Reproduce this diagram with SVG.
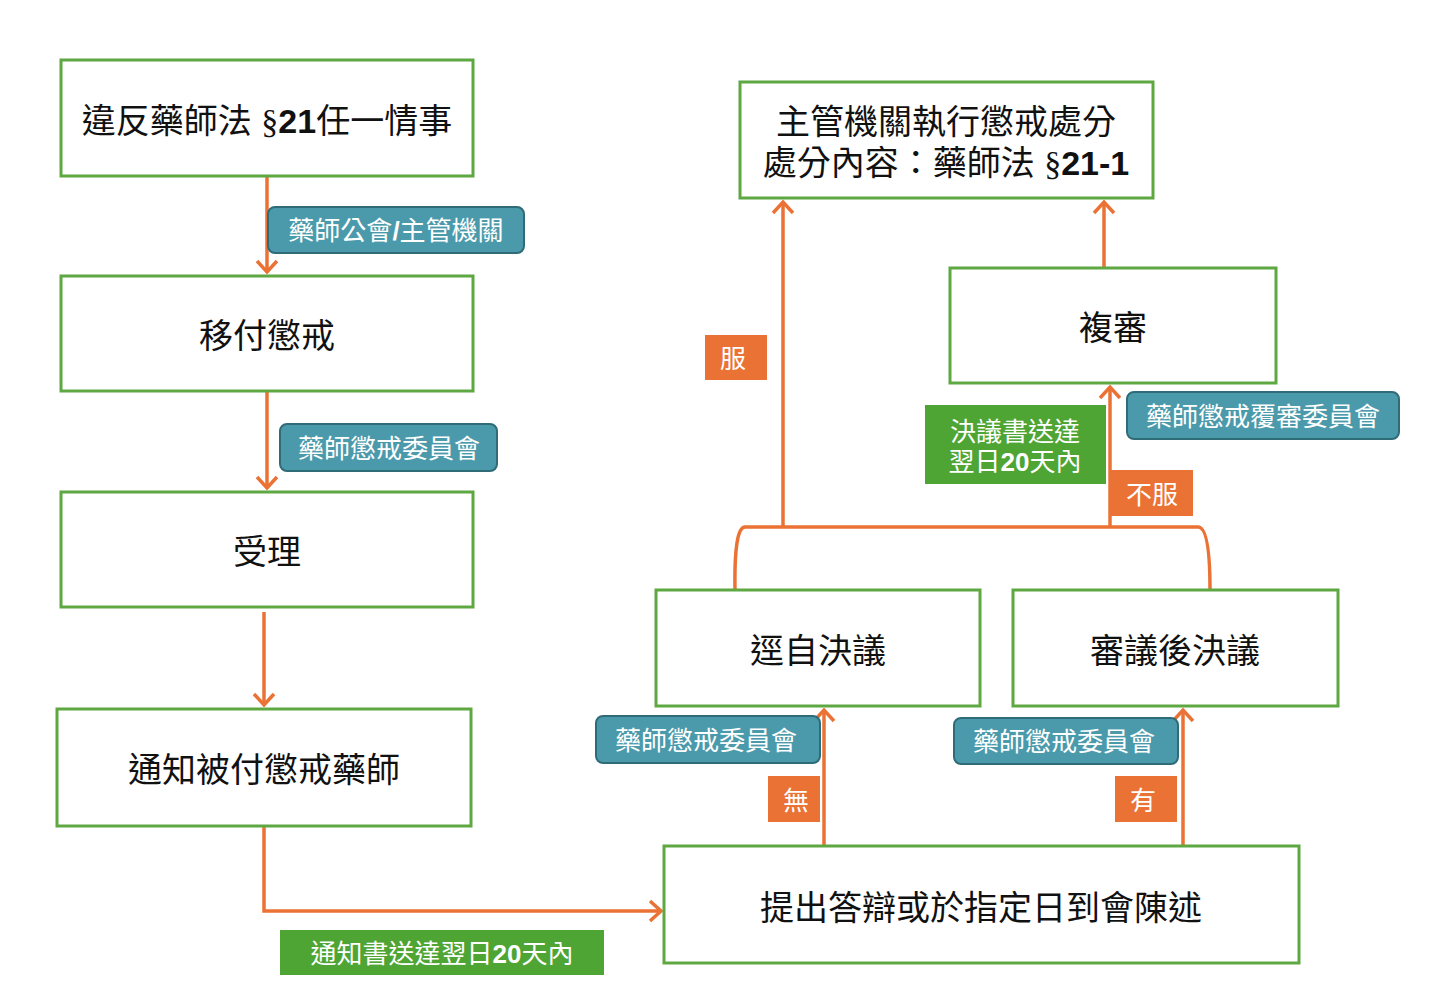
<svg xmlns="http://www.w3.org/2000/svg" width="1441" height="1000" viewBox="0 0 1441 1000">
<defs>
<marker id="ah" markerWidth="16" markerHeight="24" refX="13" refY="12" orient="auto" markerUnits="userSpaceOnUse">
<path d="M2,2 L13,12 L2,22" fill="none" stroke="#eb7235" stroke-width="3.5"/>
</marker>
<style>
.box{fill:#fff;stroke:#5ea842;stroke-width:3}
.bt{font-family:"Liberation Sans","Noto Sans CJK TC","Noto Sans CJK SC",sans-serif;font-size:34px;fill:#111;text-anchor:middle;dominant-baseline:central}
.con{fill:none;stroke:#eb7235;stroke-width:3.5}
.teal{fill:#4b9aab;stroke:#2f6c78;stroke-width:2}
.green{fill:#4ea534}
.org{fill:#eb7235}
.lt{font-family:"Liberation Sans","Noto Sans CJK TC","Noto Sans CJK SC",sans-serif;font-size:26px;fill:#fff;text-anchor:middle;dominant-baseline:central}
.b{font-family:"Liberation Sans",Arial,sans-serif;font-weight:bold}
.s{font-family:"Liberation Serif","Times New Roman",serif}
</style>
</defs>
<rect width="1441" height="1000" fill="#fff"/>

<g id="connectors">
<path class="con" d="M267,177 V272" marker-end="url(#ah)"/>
<path class="con" d="M267,392 V488" marker-end="url(#ah)"/>
<path class="con" d="M264,612 V705" marker-end="url(#ah)"/>
<path class="con" d="M264,827 V911 H661" marker-end="url(#ah)"/>
<path class="con" d="M824,846 V710" marker-end="url(#ah)"/>
<path class="con" d="M1183,846 V710" marker-end="url(#ah)"/>
<path class="con" d="M735,590 Q734,527 745,527 H1198 Q1210,527 1210,590"/>
<path class="con" d="M783,527 V202" marker-end="url(#ah)"/>
<path class="con" d="M1110,527 V387" marker-end="url(#ah)"/>
<path class="con" d="M1104,268 V202" marker-end="url(#ah)"/>
</g>

<g id="n1"><rect class="box" x="61" y="60" width="412" height="116"/>
<text class="bt" x="267" y="121">違反藥師法 <tspan class="s">§</tspan><tspan class="b">21</tspan>任一情事</text></g>
<g id="n2"><rect class="box" x="61" y="276" width="412" height="115"/>
<text class="bt" x="267" y="336">移付懲戒</text></g>
<g id="n3"><rect class="box" x="61" y="492" width="412" height="115"/>
<text class="bt" x="267" y="552">受理</text></g>
<g id="n4"><rect class="box" x="57" y="709" width="414" height="117"/>
<text class="bt" x="264" y="770">通知被付懲戒藥師</text></g>
<g id="n5"><rect class="box" x="740" y="82" width="413" height="116"/>
<text class="bt" x="946" y="122">主管機關執行懲戒處分</text>
<text class="bt" x="946" y="163">處分內容：藥師法 <tspan class="s">§</tspan><tspan class="b">21-1</tspan></text></g>
<g id="n6"><rect class="box" x="950" y="268" width="326" height="115"/>
<text class="bt" x="1113" y="328">複審</text></g>
<g id="n7"><rect class="box" x="656" y="590" width="324" height="116"/>
<text class="bt" x="818" y="651">逕自決議</text></g>
<g id="n8"><rect class="box" x="1013" y="590" width="325" height="116"/>
<text class="bt" x="1175" y="651">審議後決議</text></g>
<g id="n9"><rect class="box" x="664" y="846" width="635" height="117"/>
<text class="bt" x="981" y="908">提出答辯或於指定日到會陳述</text></g>

<g id="labels">
<rect class="teal" x="268" y="207" width="256" height="46" rx="7"/>
<text class="lt" x="396" y="231">藥師公會<tspan class="b">/</tspan>主管機關</text>
<rect class="teal" x="280" y="424" width="217" height="47" rx="7"/>
<text class="lt" x="389" y="449">藥師懲戒委員會</text>
<rect class="org" x="705" y="335" width="62" height="45"/>
<text class="lt" x="733" y="359">服</text>
<rect class="green" x="925" y="405" width="181" height="79"/>
<text class="lt" x="1015" y="432">決議書送達</text>
<text class="lt" x="1015" y="462">翌日<tspan class="b">20</tspan>天內</text>
<rect class="teal" x="1127" y="392" width="272" height="47" rx="7"/>
<text class="lt" x="1263" y="417">藥師懲戒覆審委員會</text>
<rect class="org" x="1111" y="470" width="82" height="46"/>
<text class="lt" x="1152" y="495">不服</text>
<rect class="teal" x="596" y="716" width="224" height="47" rx="7"/>
<text class="lt" x="706" y="741">藥師懲戒委員會</text>
<rect class="org" x="768" y="776" width="52" height="46"/>
<text class="lt" x="796" y="801">無</text>
<rect class="teal" x="954" y="718" width="224" height="46" rx="7"/>
<text class="lt" x="1064" y="742">藥師懲戒委員會</text>
<rect class="org" x="1115" y="776" width="62" height="46"/>
<text class="lt" x="1143" y="801">有</text>
<rect class="green" x="280" y="930" width="324" height="45"/>
<text class="lt" x="442" y="954">通知書送達翌日<tspan class="b">20</tspan>天內</text>
</g>
</svg>
